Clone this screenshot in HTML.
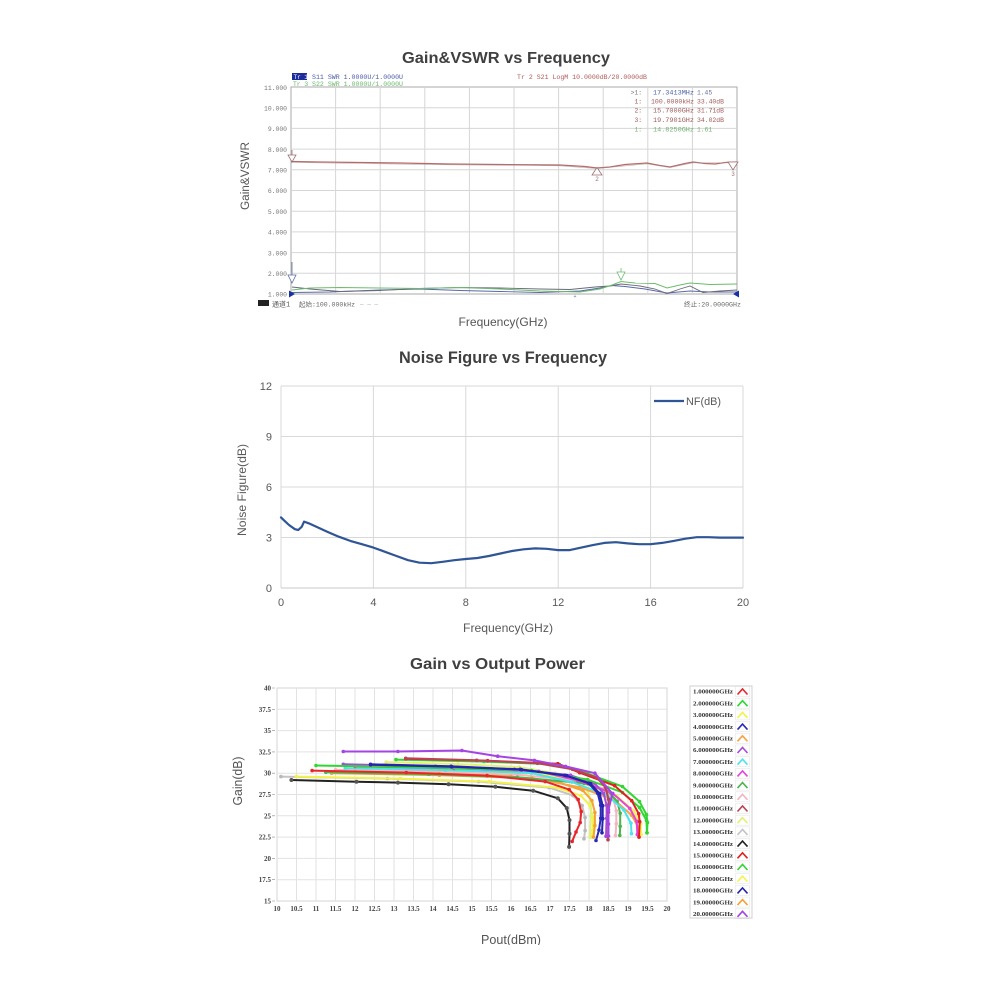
<!DOCTYPE html>
<html><head><meta charset="utf-8"><style>
html,body{margin:0;padding:0;background:#fff;}
svg{display:block;}
.mono{font-family:"Liberation Mono","Noto Sans CJK SC",monospace;}
.sans{font-family:"Liberation Sans",sans-serif;}
.serif{font-family:"Liberation Serif",serif;}
</style></head><body>
<svg width="1000" height="1000" viewBox="0 0 1000 1000" xmlns="http://www.w3.org/2000/svg">
<defs>
<clipPath id="clipB"><rect x="0" y="0" width="1000" height="945"/></clipPath>
<polyline id="cv" points="-5,3 0,-2.5 5,3" fill="none"/>
<marker id="m1" markerWidth="6" markerHeight="6" refX="3" refY="3" markerUnits="userSpaceOnUse"><circle cx="3" cy="3" r="1.8" fill="#e8262a"/></marker>
<marker id="m2" markerWidth="6" markerHeight="6" refX="3" refY="3" markerUnits="userSpaceOnUse"><circle cx="3" cy="3" r="1.8" fill="#2ed82e"/></marker>
<marker id="m3" markerWidth="6" markerHeight="6" refX="3" refY="3" markerUnits="userSpaceOnUse"><circle cx="3" cy="3" r="1.8" fill="#f2f24a"/></marker>
<marker id="m4" markerWidth="6" markerHeight="6" refX="3" refY="3" markerUnits="userSpaceOnUse"><circle cx="3" cy="3" r="1.8" fill="#2a2ab8"/></marker>
<marker id="m5" markerWidth="6" markerHeight="6" refX="3" refY="3" markerUnits="userSpaceOnUse"><circle cx="3" cy="3" r="1.8" fill="#f5a442"/></marker>
<marker id="m6" markerWidth="6" markerHeight="6" refX="3" refY="3" markerUnits="userSpaceOnUse"><circle cx="3" cy="3" r="1.8" fill="#a64ae0"/></marker>
<marker id="m7" markerWidth="6" markerHeight="6" refX="3" refY="3" markerUnits="userSpaceOnUse"><circle cx="3" cy="3" r="1.8" fill="#4ae4ea"/></marker>
<marker id="m8" markerWidth="6" markerHeight="6" refX="3" refY="3" markerUnits="userSpaceOnUse"><circle cx="3" cy="3" r="1.8" fill="#e444d8"/></marker>
<marker id="m9" markerWidth="6" markerHeight="6" refX="3" refY="3" markerUnits="userSpaceOnUse"><circle cx="3" cy="3" r="1.8" fill="#4cb44c"/></marker>
<marker id="m10" markerWidth="6" markerHeight="6" refX="3" refY="3" markerUnits="userSpaceOnUse"><circle cx="3" cy="3" r="1.8" fill="#f4b4c4"/></marker>
<marker id="m11" markerWidth="6" markerHeight="6" refX="3" refY="3" markerUnits="userSpaceOnUse"><circle cx="3" cy="3" r="1.8" fill="#b84454"/></marker>
<marker id="m12" markerWidth="6" markerHeight="6" refX="3" refY="3" markerUnits="userSpaceOnUse"><circle cx="3" cy="3" r="1.8" fill="#e2f274"/></marker>
<marker id="m13" markerWidth="6" markerHeight="6" refX="3" refY="3" markerUnits="userSpaceOnUse"><circle cx="3" cy="3" r="1.8" fill="#b8b8b8"/></marker>
<marker id="m14" markerWidth="6" markerHeight="6" refX="3" refY="3" markerUnits="userSpaceOnUse"><circle cx="3" cy="3" r="2" fill="#555"/></marker>
<marker id="m15" markerWidth="6" markerHeight="6" refX="3" refY="3" markerUnits="userSpaceOnUse"><circle cx="3" cy="3" r="1.8" fill="#e02020"/></marker>
<marker id="m16" markerWidth="6" markerHeight="6" refX="3" refY="3" markerUnits="userSpaceOnUse"><circle cx="3" cy="3" r="1.8" fill="#34d434"/></marker>
<marker id="m17" markerWidth="6" markerHeight="6" refX="3" refY="3" markerUnits="userSpaceOnUse"><circle cx="3" cy="3" r="1.8" fill="#f4f454"/></marker>
<marker id="m18" markerWidth="6" markerHeight="6" refX="3" refY="3" markerUnits="userSpaceOnUse"><circle cx="3" cy="3" r="1.8" fill="#2424ac"/></marker>
<marker id="m19" markerWidth="6" markerHeight="6" refX="3" refY="3" markerUnits="userSpaceOnUse"><circle cx="3" cy="3" r="1.8" fill="#f4a234"/></marker>
<marker id="m20" markerWidth="6" markerHeight="6" refX="3" refY="3" markerUnits="userSpaceOnUse"><circle cx="3" cy="3" r="1.8" fill="#a444e4"/></marker>
</defs>

<!-- ================= CHART 1 ================= -->
<text class="sans" x="506" y="63" font-size="16" font-weight="bold" fill="#404040" text-anchor="middle" textLength="208" lengthAdjust="spacingAndGlyphs">Gain&amp;VSWR vs Frequency</text>

<!-- header -->
<rect x="292" y="73" width="15" height="7" fill="#1c2c9c"/>
<text class="mono" x="293.5" y="79" font-size="6" fill="#fff">Tr 1</text>
<text class="mono" x="312" y="79" font-size="6.3" fill="#4a5aa8" textLength="91" lengthAdjust="spacingAndGlyphs">S11 SWR 1.0000U/1.0000U</text>
<text class="mono" x="293" y="86" font-size="6.3" fill="#6cb86c">Tr 3</text>
<text class="mono" x="312" y="86" font-size="6.3" fill="#6cb86c" textLength="91" lengthAdjust="spacingAndGlyphs">S22 SWR 1.0000U/1.0000U</text>
<text class="mono" x="517" y="79" font-size="6.3" fill="#b05858" textLength="130" lengthAdjust="spacingAndGlyphs">Tr 2  S21 LogM 10.0000dB/20.0000dB</text>

<!-- frame & grid -->
<rect x="291" y="87" width="446" height="207" fill="#fff" stroke="#a8a8a8" stroke-width="1"/>
<path d="M335.6 87V294M380.2 87V294M424.8 87V294M469.4 87V294M514 87V294M558.6 87V294M603.2 87V294M647.8 87V294M692.4 87V294M291 107.7H737M291 128.4H737M291 149.1H737M291 169.8H737M291 190.5H737M291 211.2H737M291 231.9H737M291 252.6H737M291 273.3H737" stroke="#d6d6d6" stroke-width="1" fill="none"/>

<!-- y labels -->
<g class="mono" font-size="6.4" fill="#777" text-anchor="end">
<text x="287" y="90">11.000</text>
<text x="287" y="110.5">10.000</text>
<text x="287" y="131">9.000</text>
<text x="287" y="152">8.000</text>
<text x="287" y="172.5">7.000</text>
<text x="287" y="193">6.000</text>
<text x="287" y="214">5.000</text>
<text x="287" y="234.5">4.000</text>
<text x="287" y="255.5">3.000</text>
<text x="287" y="276">2.000</text>
<text x="287" y="296.5">1.000</text>
</g>

<!-- marker table -->
<g class="mono" font-size="6.3">
<text x="642" y="94.5" fill="#777" text-anchor="end">&gt;1:</text>
<text x="653" y="94.5" fill="#4a60a8" textLength="41" lengthAdjust="spacingAndGlyphs">17.3413MHz</text>
<text x="697" y="94.5" fill="#6070a0">1.45</text>
<text x="642" y="103.5" fill="#a05858" text-anchor="end">1:</text>
<text x="651" y="103.5" fill="#a05858" textLength="43" lengthAdjust="spacingAndGlyphs">100.0000kHz</text>
<text x="697" y="103.5" fill="#a05858" textLength="27" lengthAdjust="spacingAndGlyphs">33.40dB</text>
<text x="642" y="112.5" fill="#a05858" text-anchor="end">2:</text>
<text x="653" y="112.5" fill="#a05858" textLength="41" lengthAdjust="spacingAndGlyphs">15.7000GHz</text>
<text x="697" y="112.5" fill="#a05858" textLength="27" lengthAdjust="spacingAndGlyphs">31.71dB</text>
<text x="642" y="122" fill="#a05858" text-anchor="end">3:</text>
<text x="653" y="122" fill="#a05858" textLength="41" lengthAdjust="spacingAndGlyphs">19.7901GHz</text>
<text x="697" y="122" fill="#a05858" textLength="27" lengthAdjust="spacingAndGlyphs">34.02dB</text>
<text x="642" y="131.5" fill="#70b070" text-anchor="end">1:</text>
<text x="653" y="131.5" fill="#70b070" textLength="41" lengthAdjust="spacingAndGlyphs">14.8250GHz</text>
<text x="697" y="131.5" fill="#70b070">1.61</text>
</g>

<!-- S21 trace -->
<polyline points="291,161.5 320,162 360,162.5 400,163 450,164 500,164.5 560,165 585,166.5 597,168 610,167 625,164.5 647,163 660,165.5 670,167 685,163.5 693,162 705,163.5 715,164 725,162.5 737,162" fill="none" stroke="#b86a6a" stroke-width="1.2"/>
<polyline points="291,162.5 360,163.5 450,164.8 560,165.8 597,168.6 647,163.8 670,167.6 693,162.8 737,162.8" fill="none" stroke="#a09090" stroke-width="0.6" opacity="0.7"/>
<!-- S21 markers -->
<line x1="292" y1="150" x2="292" y2="155" stroke="#a07070" stroke-width="0.8"/>
<polygon points="288,155 296,155 292,162" fill="#fff" stroke="#a07070" stroke-width="0.8"/>
<polygon points="592,175 602,175 597,167.5" fill="#fff" stroke="#a07070" stroke-width="0.8"/>
<text class="mono" x="597" y="181" font-size="6" fill="#a07070" text-anchor="middle">2</text>
<polygon points="728,162 738,162 733,170" fill="#fff" stroke="#a07070" stroke-width="0.8"/>
<text class="mono" x="733" y="176" font-size="6" fill="#a07070" text-anchor="middle">3</text>

<!-- VSWR traces -->
<polyline points="292,292.5 330,292 380,290 420,289 460,290.5 500,291.5 540,292.5 580,291 600,288 612,285.5 625,286.5 645,289 667,293 690,291 710,292 737,292" fill="none" stroke="#5868a8" stroke-width="0.9"/>
<polyline points="292,287 310,289 340,291.5 380,290.5 420,288.5 460,287.5 500,288 540,289 570,289.5 595,287 610,286 621,284 640,286 655,289 667,293.5 680,289 690,286 703,292.5 720,291 737,290" fill="none" stroke="#6a6a7a" stroke-width="0.9"/>
<polyline points="292,290 310,288 340,287.5 380,288 420,288.5 460,287.5 500,289 540,291 580,292 600,289 612,285 621,281.5 635,283 655,283.5 667,288 680,285 690,283 710,284.5 737,284" fill="none" stroke="#6cbc6c" stroke-width="1"/>
<!-- VSWR markers -->
<line x1="292" y1="262" x2="292" y2="275" stroke="#6070a0" stroke-width="0.8"/>
<polygon points="288,275 296,275 292,283" fill="#fff" stroke="#6070a0" stroke-width="0.8"/>
<line x1="621" y1="268" x2="621" y2="272" stroke="#6cbc6c" stroke-width="0.8"/>
<polygon points="617,272 625,272 621,280" fill="#fff" stroke="#6cbc6c" stroke-width="0.8"/>
<text class="mono" x="575" y="298" font-size="5" fill="#6070a0" text-anchor="middle">+</text>
<polygon points="289,290.5 289,297.5 295,294" fill="#1830a0"/>
<polygon points="739,290.5 739,297.5 733,294" fill="#1830a0"/>

<!-- status bar -->
<rect x="258" y="300" width="11" height="6" fill="#222"/>
<text class="mono" x="272" y="306.5" font-size="7" fill="#555">通道1</text>
<text class="mono" x="299" y="306.5" font-size="6.5" fill="#666" textLength="56" lengthAdjust="spacingAndGlyphs">起始:100.000kHz</text>
<text class="mono" x="360" y="306" font-size="6" fill="#aaa">— — —</text>
<text class="mono" x="741" y="306.5" font-size="6.5" fill="#666" text-anchor="end" textLength="57" lengthAdjust="spacingAndGlyphs">终止:20.0000GHz</text>

<!-- axis titles -->
<text class="sans" x="0" y="0" font-size="11.5" fill="#555" text-anchor="middle" textLength="68" lengthAdjust="spacingAndGlyphs" transform="translate(249,176) rotate(-90)">Gain&amp;VSWR</text>
<text class="sans" x="503" y="326" font-size="12" fill="#555" text-anchor="middle" textLength="89" lengthAdjust="spacingAndGlyphs">Frequency(GHz)</text>

<!-- ================= CHART 2 ================= -->
<text class="sans" x="503" y="363" font-size="16.5" font-weight="bold" fill="#404040" text-anchor="middle" textLength="208" lengthAdjust="spacingAndGlyphs">Noise Figure vs Frequency</text>
<path d="M281 386H743M281 436.5H743M281 487H743M281 537.5H743M281 386V588M373.4 386V588M465.8 386V588M558.2 386V588M650.6 386V588M743 386V588" stroke="#d9d9d9" stroke-width="1" fill="none"/>
<path d="M281 588H743" stroke="#c8c8c8" stroke-width="1"/>
<g class="sans" font-size="11" fill="#595959" text-anchor="end">
<text x="272" y="390">12</text>
<text x="272" y="440.5">9</text>
<text x="272" y="491">6</text>
<text x="272" y="541.5">3</text>
<text x="272" y="592">0</text>
</g>
<g class="sans" font-size="11" fill="#595959" text-anchor="middle">
<text x="281" y="606">0</text>
<text x="373.4" y="606">4</text>
<text x="465.8" y="606">8</text>
<text x="558.2" y="606">12</text>
<text x="650.6" y="606">16</text>
<text x="743" y="606">20</text>
</g>
<text class="sans" x="508" y="632" font-size="12" fill="#595959" text-anchor="middle" textLength="90" lengthAdjust="spacingAndGlyphs">Frequency(GHz)</text>
<text class="sans" x="0" y="0" font-size="12" fill="#595959" text-anchor="middle" textLength="92" lengthAdjust="spacingAndGlyphs" transform="translate(246,490) rotate(-90)">Noise Figure(dB)</text>
<line x1="654" y1="401" x2="684" y2="401" stroke="#2f5597" stroke-width="2.2"/>
<text class="sans" x="686" y="405" font-size="11" fill="#595959" textLength="35" lengthAdjust="spacingAndGlyphs">NF(dB)</text>
<polyline transform="translate(0,0.8)" points="281,516.6 284.5,520 289,524.2 294.9,528.4 298.3,529.2 301.8,525.9 304.1,520.8 308.7,522.5 318,526.7 327.2,530.9 338.8,535.9 350.3,540.1 361.9,543.4 373.4,546.8 385,551 396.5,555.2 408.1,559.4 419.6,561.9 431.2,562.4 442.7,561 454.3,559.4 465.8,558.2 477.4,557.2 488.9,555.2 500.5,552.7 512,550.2 523.6,548.5 535.1,547.6 546.7,548 558.2,549.3 569.8,549.3 581.3,546.8 592.9,544.3 604.4,542.1 616,541.4 627.5,542.6 639.1,543.4 650.6,543.4 662.2,542.1 673.7,540.1 685.3,537.9 696.8,536.4 708.4,536.4 719.9,536.8 743,536.8" fill="none" stroke="#2f5597" stroke-width="2.2" stroke-linejoin="round" stroke-linecap="round"/>

<!-- ================= CHART 3 ================= -->
<text class="sans" x="497.5" y="669" font-size="16" font-weight="bold" fill="#404040" text-anchor="middle" textLength="175" lengthAdjust="spacingAndGlyphs">Gain vs Output Power</text>
<rect x="277" y="688" width="390" height="213" fill="#fff" stroke="#d4d4d4" stroke-width="1"/>
<path d="M296.5 688V901M316 688V901M335.5 688V901M355 688V901M374.5 688V901M394 688V901M413.5 688V901M433 688V901M452.5 688V901M472 688V901M491.5 688V901M511 688V901M530.5 688V901M550 688V901M569.5 688V901M589 688V901M608.5 688V901M628 688V901M647.5 688V901M277 709.3H667M277 730.6H667M277 751.9H667M277 773.2H667M277 794.5H667M277 815.8H667M277 837.1H667M277 858.4H667M277 879.7H667" stroke="#e2e2e2" stroke-width="1" fill="none"/>
<path d="M272 688H275M272 709.3H275M272 730.6H275M272 751.9H275M272 773.2H275M272 794.5H275M272 815.8H275M272 837.1H275M272 858.4H275M272 879.7H275M272 901H275" stroke="#888" stroke-width="0.6"/>
<g class="serif" font-size="7" font-weight="bold" fill="#444" text-anchor="end">
<text x="271" y="690.5">40</text>
<text x="271" y="711.8">37.5</text>
<text x="271" y="733.1">35</text>
<text x="271" y="754.4">32.5</text>
<text x="271" y="775.7">30</text>
<text x="271" y="797">27.5</text>
<text x="271" y="818.3">25</text>
<text x="271" y="839.6">22.5</text>
<text x="271" y="860.9">20</text>
<text x="271" y="882.2">17.5</text>
<text x="271" y="903.5">15</text>
</g>
<g class="serif" font-size="7" font-weight="bold" fill="#444" text-anchor="middle">
<text x="277" y="911">10</text>
<text x="296.5" y="911">10.5</text>
<text x="316" y="911">11</text>
<text x="335.5" y="911">11.5</text>
<text x="355" y="911">12</text>
<text x="374.5" y="911">12.5</text>
<text x="394" y="911">13</text>
<text x="413.5" y="911">13.5</text>
<text x="433" y="911">14</text>
<text x="452.5" y="911">14.5</text>
<text x="472" y="911">15</text>
<text x="491.5" y="911">15.5</text>
<text x="511" y="911">16</text>
<text x="530.5" y="911">16.5</text>
<text x="550" y="911">17</text>
<text x="569.5" y="911">17.5</text>
<text x="589" y="911">18</text>
<text x="608.5" y="911">18.5</text>
<text x="628" y="911">19</text>
<text x="647.5" y="911">19.5</text>
<text x="667" y="911">20</text>
</g>
<text class="sans" x="0" y="0" font-size="12.5" fill="#555" text-anchor="middle" textLength="49" lengthAdjust="spacingAndGlyphs" transform="translate(242,781) rotate(-90)">Gain(dB)</text>
<g clip-path="url(#clipB)">
<text class="sans" x="511" y="944" font-size="13" fill="#555" text-anchor="middle" textLength="60" lengthAdjust="spacingAndGlyphs">Pout(dBm)</text>
</g>

<!-- series -->
<g fill="none" stroke-width="2" stroke-linejoin="round">
<polyline stroke="#c4c4c4" marker-start="url(#m13)" marker-mid="url(#m13)" marker-end="url(#m13)" points="280.9,776.6 387.4,778.6 478.6,781.6 549.1,787.6 573.1,795.6 582.1,805.6 585.1,817.6 585.1,830.6 584,838.8"/>
<polyline stroke="#f2f24a" marker-start="url(#m3)" marker-mid="url(#m3)" marker-end="url(#m3)" points="296.5,776.6 400.2,778.6 489.2,781.6 556.9,787.6 580.9,795.6 589.9,805.6 592.9,817.6 592.9,830.6 591,837.1"/>
<polyline stroke="#f4f454" marker-start="url(#m17)" marker-mid="url(#m17)" marker-end="url(#m17)" points="355,768.9 455.3,770.9 541.4,773.9 581.7,782.9 616.7,795.9 633.7,810.9 640.7,823.9 641.2,834.5"/>
<polyline stroke="#e2f274" marker-start="url(#m12)" marker-mid="url(#m12)" marker-end="url(#m12)" points="386.2,762.1 457.9,764.1 519.3,767.1 555,773.1 579,781.1 588,791.1 591,803.1 591,816.1 590,837.1"/>
<polyline stroke="#f4b4c4" marker-start="url(#m10)" marker-mid="url(#m10)" marker-end="url(#m10)" points="335.5,769.8 433.8,771.8 518,774.8 580.3,780.8 604.3,788.8 613.3,798.8 616.3,810.8 616.3,823.8 615.5,835.4"/>
<polyline stroke="#f4a234" marker-start="url(#m19)" marker-mid="url(#m19)" marker-end="url(#m19)" points="355,771.5 439,773.5 510.9,776.5 558.9,782.5 582.9,790.5 591.9,800.5 594.9,812.5 594.9,825.5 593.5,837.1"/>
<polyline stroke="#f5a442" marker-start="url(#m5)" marker-mid="url(#m5)" marker-end="url(#m5)" points="331.6,773.2 439.4,775.2 531.9,778.2 579.7,787.2 614.7,800.2 631.7,815.2 638.7,828.2 639,837.1"/>
<polyline stroke="#4cb44c" marker-start="url(#m9)" marker-mid="url(#m9)" marker-end="url(#m9)" points="325.8,772.3 428.8,774.3 517.2,777.3 584.2,783.3 608.2,791.3 617.2,801.3 620.2,813.3 620.2,826.3 619.8,835.4"/>
<polyline stroke="#4ae4ea" marker-start="url(#m7)" marker-mid="url(#m7)" marker-end="url(#m7)" points="345.3,768.1 445.6,770.1 531.6,773.1 571.9,782.1 606.9,795.1 623.9,810.1 630.9,823.1 631.5,833.7"/>
<polyline stroke="#e444d8" marker-start="url(#m8)" marker-mid="url(#m8)" marker-end="url(#m8)" points="355,766.4 454,768.4 538.8,771.4 577.8,780.4 612.8,793.4 629.8,808.4 636.8,821.4 637.3,834.5"/>
<polyline stroke="#a64ae0" marker-start="url(#m6)" marker-mid="url(#m6)" marker-end="url(#m6)" points="343.3,764.3 435.5,766.3 514.4,769.3 570.6,775.3 594.6,783.3 603.6,793.3 606.6,805.3 606.6,818.3 606,836.2"/>
<polyline stroke="#e8262a" marker-start="url(#m1)" marker-mid="url(#m1)" marker-end="url(#m1)" points="312.1,770.6 406.3,772.6 487,775.6 545.2,781.6 569.2,789.6 578.2,799.6 581.2,811.6 580.2,822.6 576,832 572.2,841.4"/>
<polyline stroke="#2ed82e" marker-start="url(#m2)" marker-mid="url(#m2)" marker-end="url(#m2)" points="316,765.5 432,767.5 531.5,770.5 587.5,779.5 622.5,792.5 639.5,807.5 646.5,820.5 647,832.8"/>
<polyline stroke="#34d434" marker-start="url(#m16)" marker-mid="url(#m16)" marker-end="url(#m16)" points="396,759.6 484,761.6 559.5,764.6 587.5,773.6 622.5,786.6 639.5,801.6 646.5,814.6 647.5,822.6 647,832.8"/>
<polyline stroke="#e02020" marker-start="url(#m15)" marker-mid="url(#m15)" marker-end="url(#m15)" points="405.7,758.7 487.6,760.7 557.8,763.7 579.7,772.7 614.7,785.7 631.7,800.7 638.7,813.7 639.7,821.7 639,837.1"/>
<polyline stroke="#b84454" marker-start="url(#m11)" marker-mid="url(#m11)" marker-end="url(#m11)" points="405.7,758.3 476.7,760.3 537.5,763.3 572.5,769.3 596.5,777.3 605.5,787.3 608.5,799.3 608.5,812.3 608,839.7"/>
<polyline stroke="#2a2ab8" marker-start="url(#m4)" marker-mid="url(#m4)" marker-end="url(#m4)" points="370.6,764.3 451.1,766.3 520.2,769.3 564.7,775.3 588.7,783.3 597.7,793.3 600.7,805.3 600.7,818.3 599,830 596,840.5"/>
<polyline stroke="#2424ac" marker-start="url(#m18)" marker-mid="url(#m18)" marker-end="url(#m18)" points="370.6,764.7 451.8,766.7 521.5,769.7 566.7,775.7 590.7,783.7 599.7,793.7 602.7,805.7 602.7,818.7 602,832.8"/>
<polyline stroke="#a444e4" marker-start="url(#m20)" marker-mid="url(#m20)" marker-end="url(#m20)" points="343.3,751.5 397.9,751.5 461.9,750.5 497.7,756.2 534.4,760.4 565.6,766.4 594.9,773.2 612.4,793.7 608.5,809.8 608.5,824 608.5,836"/>
<polyline stroke="#222" marker-start="url(#m14)" marker-mid="url(#m14)" marker-end="url(#m14)" points="291.4,780 356.5,781.7 397.9,782.6 448.6,784.3 495.4,786.8 533.2,790.7 557.8,798.3 566.8,808.1 569.5,820.1 569.5,833.7 569.1,846.9"/>
</g>

<!-- legend -->
<rect x="690" y="686" width="62" height="232" fill="#fff" stroke="#d0d0d0" stroke-width="1"/>
<g class="serif" font-size="6.5" font-weight="bold" fill="#333">
<text x="693" y="693.7" textLength="40" lengthAdjust="spacingAndGlyphs">1.000000GHz</text>
<text x="693" y="705.4" textLength="40" lengthAdjust="spacingAndGlyphs">2.000000GHz</text>
<text x="693" y="717.1" textLength="40" lengthAdjust="spacingAndGlyphs">3.000000GHz</text>
<text x="693" y="728.8" textLength="40" lengthAdjust="spacingAndGlyphs">4.000000GHz</text>
<text x="693" y="740.5" textLength="40" lengthAdjust="spacingAndGlyphs">5.000000GHz</text>
<text x="693" y="752.2" textLength="40" lengthAdjust="spacingAndGlyphs">6.000000GHz</text>
<text x="693" y="763.9" textLength="40" lengthAdjust="spacingAndGlyphs">7.000000GHz</text>
<text x="693" y="775.6" textLength="40" lengthAdjust="spacingAndGlyphs">8.000000GHz</text>
<text x="693" y="787.3" textLength="40" lengthAdjust="spacingAndGlyphs">9.000000GHz</text>
<text x="693" y="799" textLength="40" lengthAdjust="spacingAndGlyphs">10.00000GHz</text>
<text x="693" y="810.7" textLength="40" lengthAdjust="spacingAndGlyphs">11.00000GHz</text>
<text x="693" y="822.4" textLength="40" lengthAdjust="spacingAndGlyphs">12.00000GHz</text>
<text x="693" y="834.1" textLength="40" lengthAdjust="spacingAndGlyphs">13.00000GHz</text>
<text x="693" y="845.8" textLength="40" lengthAdjust="spacingAndGlyphs">14.00000GHz</text>
<text x="693" y="857.5" textLength="40" lengthAdjust="spacingAndGlyphs">15.00000GHz</text>
<text x="693" y="869.2" textLength="40" lengthAdjust="spacingAndGlyphs">16.00000GHz</text>
<text x="693" y="880.9" textLength="40" lengthAdjust="spacingAndGlyphs">17.00000GHz</text>
<text x="693" y="892.6" textLength="40" lengthAdjust="spacingAndGlyphs">18.00000GHz</text>
<text x="693" y="904.3" textLength="40" lengthAdjust="spacingAndGlyphs">19.00000GHz</text>
<text x="693" y="916" textLength="40" lengthAdjust="spacingAndGlyphs">20.00000GHz</text>
</g>
<g fill="none" stroke="#e6e6e6" stroke-width="0.6">
<rect x="735.5" y="686.5" width="14" height="10"/><rect x="735.5" y="698.2" width="14" height="10"/><rect x="735.5" y="709.9" width="14" height="10"/><rect x="735.5" y="721.6" width="14" height="10"/><rect x="735.5" y="733.3" width="14" height="10"/><rect x="735.5" y="745" width="14" height="10"/><rect x="735.5" y="756.7" width="14" height="10"/><rect x="735.5" y="768.4" width="14" height="10"/><rect x="735.5" y="780.1" width="14" height="10"/><rect x="735.5" y="791.8" width="14" height="10"/><rect x="735.5" y="803.5" width="14" height="10"/><rect x="735.5" y="815.2" width="14" height="10"/><rect x="735.5" y="826.9" width="14" height="10"/><rect x="735.5" y="838.6" width="14" height="10"/><rect x="735.5" y="850.3" width="14" height="10"/><rect x="735.5" y="862" width="14" height="10"/><rect x="735.5" y="873.7" width="14" height="10"/><rect x="735.5" y="885.4" width="14" height="10"/><rect x="735.5" y="897.1" width="14" height="10"/><rect x="735.5" y="908.8" width="14" height="10"/>
</g>
<g stroke-width="1.6">
<use href="#cv" x="742.5" y="691.5" stroke="#e8262a"/>
<use href="#cv" x="742.5" y="703.2" stroke="#2ed82e"/>
<use href="#cv" x="742.5" y="714.9" stroke="#f2f24a"/>
<use href="#cv" x="742.5" y="726.6" stroke="#2a2ab8"/>
<use href="#cv" x="742.5" y="738.3" stroke="#f5a442"/>
<use href="#cv" x="742.5" y="750" stroke="#a64ae0"/>
<use href="#cv" x="742.5" y="761.7" stroke="#4ae4ea"/>
<use href="#cv" x="742.5" y="773.4" stroke="#e444d8"/>
<use href="#cv" x="742.5" y="785.1" stroke="#4cb44c"/>
<use href="#cv" x="742.5" y="796.8" stroke="#f4b4c4"/>
<use href="#cv" x="742.5" y="808.5" stroke="#b84454"/>
<use href="#cv" x="742.5" y="820.2" stroke="#e2f274"/>
<use href="#cv" x="742.5" y="831.9" stroke="#c4c4c4"/>
<use href="#cv" x="742.5" y="843.6" stroke="#222"/>
<use href="#cv" x="742.5" y="855.3" stroke="#e02020"/>
<use href="#cv" x="742.5" y="867" stroke="#34d434"/>
<use href="#cv" x="742.5" y="878.7" stroke="#f4f454"/>
<use href="#cv" x="742.5" y="890.4" stroke="#2424ac"/>
<use href="#cv" x="742.5" y="902.1" stroke="#f4a234"/>
<use href="#cv" x="742.5" y="913.8" stroke="#a444e4"/>
</g>
</svg>
</body></html>
